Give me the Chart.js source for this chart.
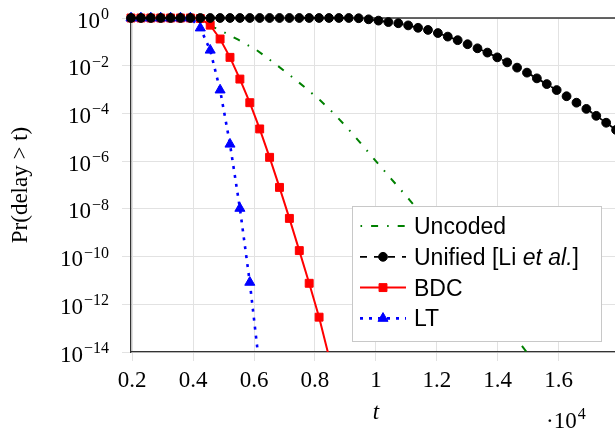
<!DOCTYPE html>
<html>
<head>
<meta charset="utf-8">
<script src="https://cdn.jsdelivr.net/npm/chart.js@4.4.1/dist/chart.umd.min.js"></script>
<style>
  html, body { margin: 0; padding: 0; background: #fff; overflow: hidden; }
  #wrap { width: 615px; height: 430px; }
</style>
</head>
<body>
<div id="wrap"><canvas id="delay" width="615" height="430"></canvas></div>
<script>
// t values where the marked curves are sampled
const tGrid = [1960, 2285, 2610, 2935, 3260, 3585, 3910, 4235, 4560, 4885,
  5210, 5535, 5860, 6185, 6510, 6835, 7160, 7485, 7810, 8135,
  8460, 8785, 9110, 9435, 9760, 10085, 10410, 10735, 11060, 11385,
  11710, 12035, 12360, 12685, 13010, 13335, 13660, 13985, 14310, 14635,
  14960, 15285, 15610, 15935, 16260, 16585, 16910, 17235, 17560, 17885];

// log10 Pr(delay > t)
const unifiedLog = [0, 0, 0, 0, 0, 0, 0, 0, 0, 0,
  0, 0, 0, 0, 0, 0, 0, 0, 0, 0,
  0, 0, 0, -0.01, -0.055, -0.11, -0.17, -0.22, -0.31, -0.41,
  -0.5, -0.63, -0.78, -0.93, -1.1, -1.27, -1.45, -1.65, -1.86, -2.08,
  -2.29, -2.53, -2.77, -3.02, -3.28, -3.55, -3.81, -4.1, -4.39, -4.69];
const bdcLog = [0, 0, 0, 0, 0, 0, 0, -0.02, -0.3, -0.88,
  -1.65, -2.56, -3.55, -4.65, -5.84, -7.1, -8.4, -9.75, -11.12, -12.54, -14.2];
const ltLog = [0, 0, 0, 0, 0, 0, 0, -0.42, -1.35, -3.02, -5.29, -7.98, -11.08, -14.7];

const uncodedT = [1960, 3000, 3700, 4100, 4500, 4880, 5480, 6080, 6630, 7170,
  7680, 8160, 8600, 9030, 9470, 9905, 10509, 11109, 11800, 12500,
  13200, 13900, 14800, 15300];
const uncodedLog = [0, 0, -0.02, -0.12, -0.3, -0.5, -0.91, -1.34, -1.86, -2.39,
  -2.92, -3.44, -3.98, -4.56, -5.2, -5.86, -6.75, -7.63, -8.71, -9.84,
  -11.0, -12.18, -13.75, -14.6];

const xTickValues = [2000, 4000, 6000, 8000, 10000, 12000, 14000, 16000];
const yTickPowers = [0, -2, -4, -6, -8, -10, -12, -14];

const serif = "'Liberation Serif', 'DejaVu Serif', serif";
const sans = "'Liberation Sans', 'DejaVu Sans', sans-serif";
const axisColor = '#333333';
const gridColor = '#e2e2e2';
const overTop = { left: 8, top: 8, right: 0, bottom: 0 };

function toPoints(ts, logs) {
  return logs.map((p, i) => ({ x: ts[i], y: Math.pow(10, p) }));
}

// frame line along the top, under the markers
const topFrame = {
  id: 'topFrame',
  beforeDatasetsDraw(chart) {
    const { ctx, chartArea: a } = chart;
    ctx.save();
    ctx.strokeStyle = axisColor;
    ctx.lineWidth = 1.3;
    ctx.beginPath();
    ctx.moveTo(a.left, a.top);
    ctx.lineTo(a.right, a.top);
    ctx.stroke();
    ctx.restore();
  }
};

// legend box with line samples, drawn over the curves
const legendBox = {
  id: 'legendBox',
  afterDatasetsDraw(chart) {
    const ctx = chart.ctx;
    const boxX = 352, boxY = 206, boxW = 249, boxH = 135;
    ctx.save();
    ctx.fillStyle = '#fff';
    ctx.strokeStyle = '#c8c8c8';
    ctx.lineWidth = 1;
    ctx.fillRect(boxX, boxY, boxW, boxH);
    ctx.strokeRect(boxX + 0.5, boxY + 0.5, boxW, boxH);

    const legendOrder = [0, 1, 2, 3];
    legendOrder.forEach((di, row) => {
      const ds = chart.data.datasets[di];
      const cy = 226 + row * 30.8;
      ctx.save();
      ctx.strokeStyle = ds.borderColor;
      ctx.lineWidth = ds.borderWidth;
      ctx.setLineDash(ds.borderDash || []);
      ctx.lineDashOffset = ds.legendDashOffset || 0;
      ctx.beginPath();
      ctx.moveTo(360, cy);
      ctx.lineTo(406, cy);
      ctx.stroke();
      ctx.restore();
      if (ds.pointRadius > 0) {
        ctx.save();
        ctx.fillStyle = ds.pointBackgroundColor;
        ctx.strokeStyle = ds.pointBorderColor;
        ctx.lineWidth = 1;
        Chart.helpers.drawPoint(ctx, { pointStyle: ds.pointStyle, radius: ds.pointRadius, rotation: 0, borderWidth: 1 }, 383, cy);
        ctx.restore();
      }
      // label text
      ctx.fillStyle = '#000';
      ctx.textBaseline = 'alphabetic';
      ctx.textAlign = 'left';
      let x = 414;
      const base = cy + 8;
      ds.legendParts.forEach(part => {
        ctx.font = (part.italic ? 'italic ' : '') + '23px ' + sans;
        ctx.fillText(part.text, x, base);
        x += ctx.measureText(part.text).width;
      });
    });
    ctx.restore();
  }
};

// y tick labels with superscripts and the axis titles
const axisText = {
  id: 'axisText',
  afterDraw(chart) {
    const { ctx, chartArea: a, scales: { y } } = chart;
    ctx.save();
    ctx.fillStyle = '#000';
    ctx.textBaseline = 'alphabetic';
    ctx.textAlign = 'right';
    yTickPowers.forEach(p => {
      const py = y.getPixelForValue(Math.pow(10, p));
      const exp = p === 0 ? '0' : '\u2212' + Math.abs(p);
      ctx.font = '16px ' + serif;
      const ew = ctx.measureText(exp).width;
      ctx.fillText(exp, 109, py + 1);
      ctx.font = '23px ' + serif;
      ctx.fillText('10', 109 - ew - 1, py + 9.5);
    });

    // y title
    ctx.save();
    ctx.translate(27, (a.top + a.bottom) / 2);
    ctx.rotate(-Math.PI / 2);
    ctx.textAlign = 'center';
    ctx.font = '23px ' + serif;
    ctx.fillText('Pr(delay > t)', 0, 0);
    ctx.restore();

    // x title
    ctx.textAlign = 'center';
    ctx.font = 'italic 23px ' + serif;
    ctx.fillText('t', 376, 419);

    // exponent of the x axis
    ctx.textAlign = 'left';
    ctx.font = '23px ' + serif;
    ctx.fillText('\u00b710', 546, 428);
    const w = ctx.measureText('\u00b710').width;
    ctx.font = '16px ' + serif;
    ctx.fillText('4', 546 + w + 1, 419);
    ctx.restore();
  }
};

const ctx = document.getElementById('delay');
new Chart(ctx, {
  type: 'line',
  data: {
    datasets: [
      {
        label: 'Uncoded',
        legendParts: [{ text: 'Uncoded' }],
        data: toPoints(uncodedT, uncodedLog),
        borderColor: 'rgb(0, 128, 0)',
        borderWidth: 2,
        borderDash: [7, 9, 1.6, 9],
        legendDashOffset: 15.5,
        pointRadius: 0,
        order: 4,
        clip: overTop
      },
      {
        label: 'Unified [Li et al.]',
        legendParts: [{ text: 'Unified [Li ' }, { text: 'et al.', italic: true }, { text: ']' }],
        data: toPoints(tGrid, unifiedLog),
        borderColor: '#000',
        backgroundColor: '#000',
        borderWidth: 1.8,
        borderDash: [7, 7],
        legendDashOffset: 0,
        pointStyle: 'circle',
        pointRadius: 4.4,
        pointBorderWidth: 1,
        pointBackgroundColor: '#000',
        pointBorderColor: '#000',
        order: 1,
        clip: overTop
      },
      {
        label: 'BDC',
        legendParts: [{ text: 'BDC' }],
        data: toPoints(tGrid, bdcLog),
        borderColor: 'rgb(255, 0, 0)',
        backgroundColor: 'rgb(255, 0, 0)',
        borderWidth: 2,
        pointStyle: 'rect',
        pointRadius: 5.6,
        pointBorderWidth: 1,
        pointBackgroundColor: 'rgb(255, 0, 0)',
        pointBorderColor: 'rgb(255, 0, 0)',
        order: 3,
        clip: overTop
      },
      {
        label: 'LT',
        legendParts: [{ text: 'LT' }],
        data: toPoints(tGrid, ltLog),
        borderColor: 'rgb(0, 0, 255)',
        backgroundColor: 'rgb(0, 0, 255)',
        borderWidth: 2.6,
        borderDash: [3, 6],
        legendDashOffset: 0,
        pointStyle: 'triangle',
        pointRadius: 5.8,
        pointBorderWidth: 1,
        pointBackgroundColor: 'rgb(0, 0, 255)',
        pointBorderColor: 'rgb(0, 0, 255)',
        order: 2,
        clip: overTop
      }
    ]
  },
  options: {
    responsive: false,
    animation: false,
    layout: { autoPadding: false, padding: { top: 18, left: 0, right: 0, bottom: 0 } },
    plugins: {
      legend: { display: false },
      tooltip: { enabled: false }
    },
    elements: { line: { tension: 0 } },
    scales: {
      x: {
        type: 'linear',
        min: 1960,
        max: 17850,
        afterBuildTicks: s => { s.ticks = xTickValues.map(v => ({ value: v })); },
        afterFit: s => { s.height = 78; },
        grid: { color: gridColor, lineWidth: 1, tickLength: 9 },
        border: { color: axisColor, width: 1.3 },
        ticks: {
          autoSkip: false,
          maxRotation: 0,
          padding: 6,
          color: '#000',
          font: { family: serif, size: 23 },
          callback: v => String(v / 10000)
        }
      },
      y: {
        type: 'logarithmic',
        min: 1e-14,
        max: 1,
        afterBuildTicks: s => { s.ticks = yTickPowers.map(p => ({ value: Math.pow(10, p) })); },
        afterFit: s => { s.width = 131; },
        grid: { color: gridColor, lineWidth: 1, tickLength: 9 },
        border: { color: axisColor, width: 1.3 },
        ticks: { autoSkip: false, callback: () => '' }
      }
    }
  },
  plugins: [topFrame, legendBox, axisText]
});
</script>
</body>
</html>
